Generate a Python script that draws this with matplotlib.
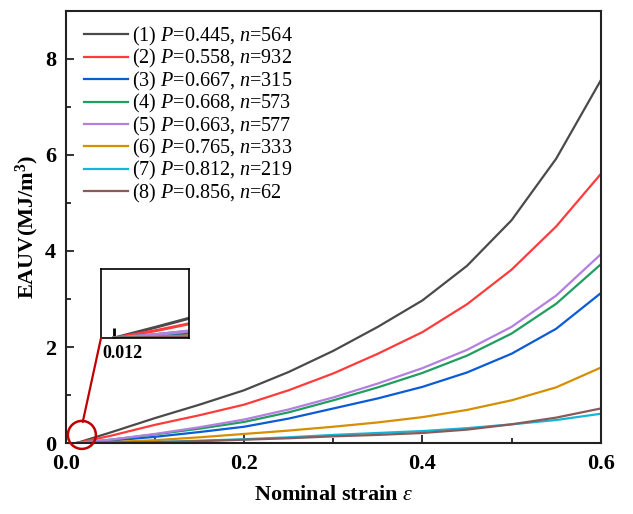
import matplotlib
matplotlib.use("Agg")
import matplotlib.pyplot as plt
from matplotlib.patches import Ellipse, ConnectionPatch

plt.rcParams['font.family'] = ['Liberation Serif', 'DejaVu Serif']
plt.rcParams['mathtext.fontset'] = 'custom'
plt.rcParams['mathtext.rm'] = 'Liberation Serif'
plt.rcParams['mathtext.it'] = 'Liberation Serif:italic'
plt.rcParams['mathtext.bf'] = 'Liberation Serif:bold'

# strain points
strain = [0.012, 0.05, 0.1, 0.15, 0.2, 0.25, 0.3, 0.35, 0.4, 0.45, 0.5, 0.55, 0.6]

eauv_1 = [0, 0.22, 0.52, 0.80, 1.10, 1.48, 1.92, 2.42, 2.97, 3.69, 4.64, 5.92, 7.55]
eauv_2 = [0, 0.15, 0.38, 0.58, 0.80, 1.10, 1.45, 1.86, 2.31, 2.89, 3.61, 4.51, 5.60]
eauv_3 = [0, 0.05, 0.13, 0.23, 0.34, 0.51, 0.72, 0.93, 1.17, 1.47, 1.86, 2.38, 3.12]
eauv_4 = [0, 0.07, 0.18, 0.30, 0.44, 0.64, 0.89, 1.16, 1.46, 1.82, 2.28, 2.90, 3.72]
eauv_5 = [0, 0.07, 0.19, 0.33, 0.49, 0.70, 0.95, 1.24, 1.56, 1.94, 2.42, 3.07, 3.93]
eauv_6 = [0, 0.02, 0.06, 0.12, 0.19, 0.26, 0.34, 0.43, 0.54, 0.69, 0.89, 1.16, 1.57]
eauv_7 = [0, 0.01, 0.02, 0.05, 0.08, 0.12, 0.17, 0.21, 0.25, 0.31, 0.39, 0.48, 0.61]
eauv_8 = [0, 0.01, 0.02, 0.04, 0.07, 0.10, 0.14, 0.17, 0.21, 0.28, 0.39, 0.53, 0.72]

porosity = ['0.445', '0.558', '0.667', '0.668', '0.663', '0.765', '0.812', '0.856']
cells = ['564', '932', '315', '573', '577', '333', '219', '62']
colors = ['#4a4a4a', '#ff3b3b', '#0a5bd6', '#1f9e5f', '#b47fe0', '#d68f00', '#14b5d5', '#8a5a5a']

series = [eauv_1, eauv_2, eauv_3, eauv_4, eauv_5, eauv_6, eauv_7, eauv_8]

fig = plt.figure(figsize=(6.33, 5.14), dpi=100)
ax = fig.add_axes([0.104, 0.138, 0.845, 0.841])

for i, vals in enumerate(series):
    label = f"({i+1}) $P$=" + porosity[i] + ", $n$=" + cells[i]
    ax.plot(strain, vals, color=colors[i], lw=1.6, label=label)

ax.set_xlim(0, 0.6)
ax.set_ylim(0, 9)
ax.set_xticks([0.0, 0.2, 0.4, 0.6])
ax.set_xticks([0.1, 0.3, 0.5], minor=True)
ax.set_yticks([0, 2, 4, 6, 8])
ax.set_yticks([1, 3, 5, 7], minor=True)
ax.xaxis.set_major_formatter(plt.FuncFormatter(lambda v, p: f"{v:.1f}"))
ax.tick_params(which='both', direction='in', width=1.3, colors='#222222')
ax.tick_params(which='major', length=6, labelsize=16)
ax.tick_params(axis='x', which='major', pad=8)
ax.tick_params(axis='y', which='major', pad=7)
ax.tick_params(which='minor', length=3.5)
for t in ax.get_xticklabels() + ax.get_yticklabels():
    t.set_fontweight('bold')
    t.set_color('black')
for s in ax.spines.values():
    s.set_linewidth(1.5)
    s.set_color('#222222')

ax.set_xlabel(r"Nominal strain $\mathit{\varepsilon}$", fontsize=16, fontweight='bold', labelpad=8)
ax.set_ylabel("EAUV(MJ/m$^\\mathbf{3}$)", fontsize=16, fontweight='bold', labelpad=3)

leg = ax.legend(loc='upper left', frameon=False, fontsize=14.5, handlelength=2.15,
                handletextpad=0.2, labelspacing=-0.03, bbox_to_anchor=(0.008, 1.0),
                borderaxespad=0.3)

# zoom circle near the origin
circ = Ellipse((0.018, 0.17), 0.0314, 0.583, fill=False, edgecolor='#c00000', lw=1.8,
               clip_on=False, zorder=5)
ax.add_patch(circ)

# inset
axin = fig.add_axes([101 / 633, (514 - 338) / 514, 88 / 633, 69 / 514])
for i, vals in enumerate(series):
    axin.plot(strain, vals, color=colors[i], lw=2.2)
axin.set_xlim(0, 0.08)
axin.set_ylim(0, 1.4)
axin.set_xticks([0.012])
axin.set_xticklabels([])
axin.set_yticks([])
axin.tick_params(axis='x', direction='in', length=7, width=2)
axin.text(0.02, -0.1, '0.012', transform=axin.transAxes, ha='left', va='top',
          fontsize=13, fontweight='bold')
for s in axin.spines.values():
    s.set_linewidth(1.2)

con = ConnectionPatch(xyA=(0.0, 0.0), coordsA=axin.transAxes,
                      xyB=(0.019, 0.44), coordsB=ax.transData,
                      color='#c00000', lw=1.6, zorder=6)
fig.add_artist(con)

fig.savefig('out.png', dpi=100)
